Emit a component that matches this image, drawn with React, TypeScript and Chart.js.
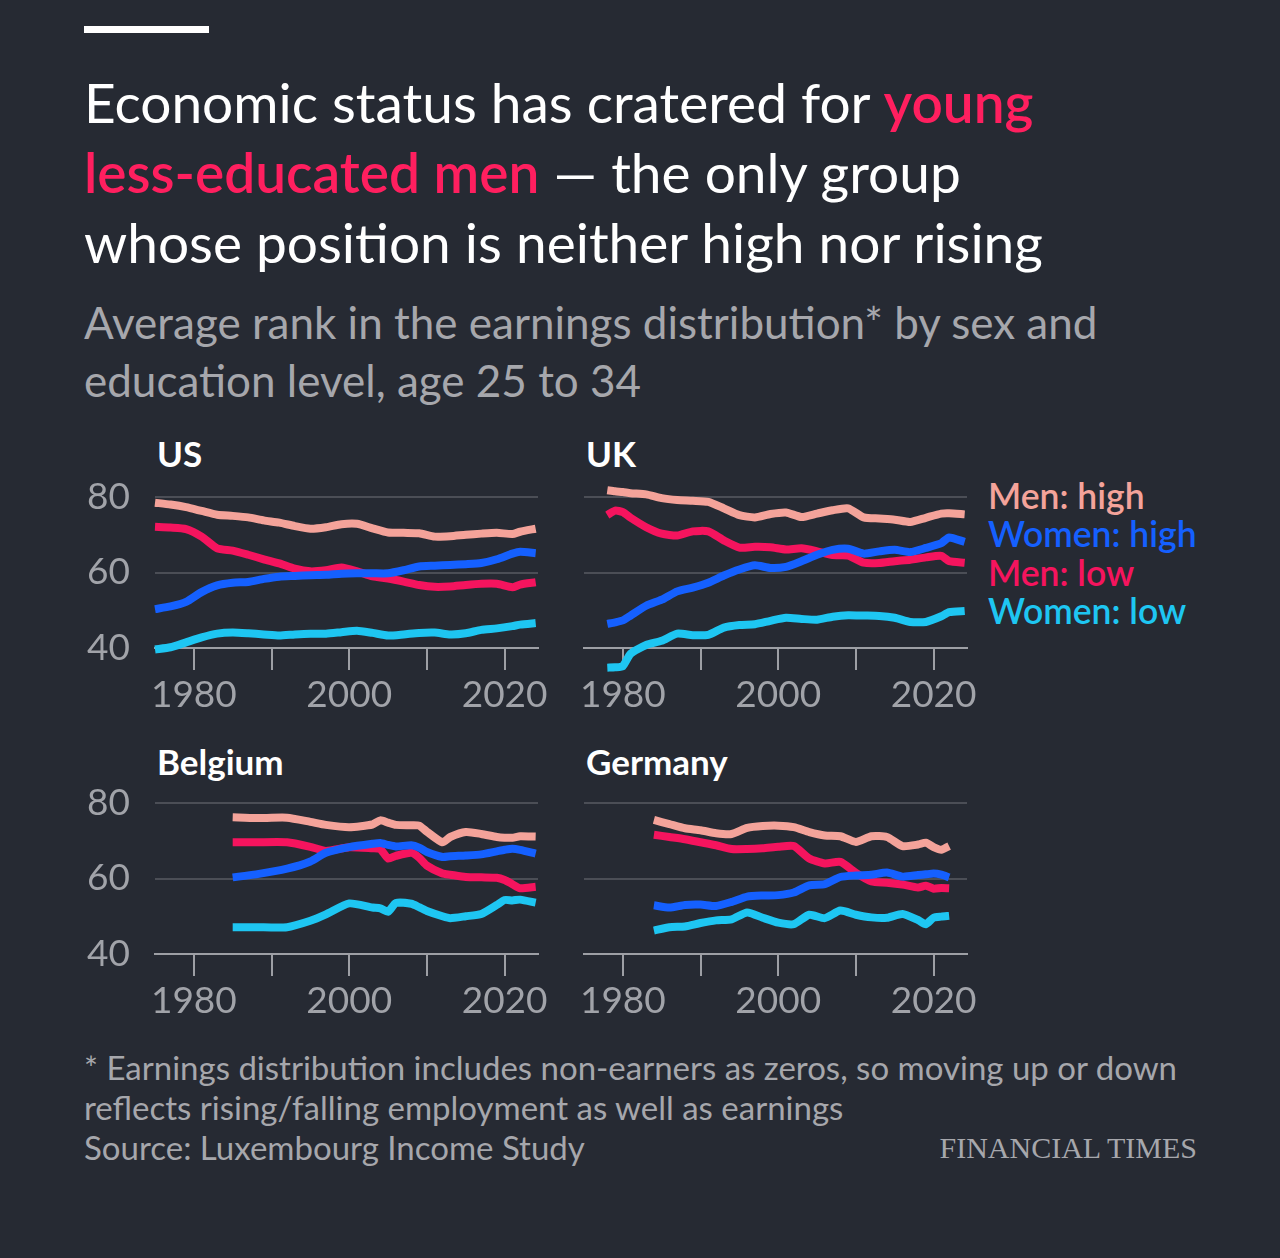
import { useEffect, useRef } from 'react';
import { Chart, registerables } from 'chart.js';

Chart.register(...registerables);

const BG = '#262a33';
const RED = '#ff1f5f';
const GREY_TEXT = '#a6a7ac';
const FONT = 'Lato, "Noto Sans", sans-serif';

const SERIES_NAMES = ['Men: high', 'Women: high', 'Men: low', 'Women: low'];
const SERIES_COLORS = ['#f4a39a', '#1560ff', '#f5145e', '#1ec6f2'];

const X_TICKS = [1980, 1990, 2000, 2010, 2020];
const X_LABELS = [1980, 2000, 2020];
const Y_TICKS = [40, 60, 80];

// US
const US_YEARS = [1975, 1977, 1979, 1981, 1983, 1985, 1987, 1989, 1991, 1993, 1995, 1997, 1999, 2001, 2003, 2005, 2007, 2009, 2011, 2013, 2015, 2017, 2019, 2021, 2022, 2024];
const US_MEN_HIGH = [78.5, 78.0, 77.3, 76.3, 75.3, 75.0, 74.6, 73.8, 73.2, 72.3, 71.6, 72.0, 72.8, 72.9, 71.7, 70.6, 70.5, 70.4, 69.5, 69.6, 70.0, 70.3, 70.5, 70.2, 70.8, 71.6];
const US_WOMEN_HIGH = [50.3, 51.0, 52.2, 54.8, 56.6, 57.3, 57.5, 58.3, 58.9, 59.1, 59.3, 59.4, 59.7, 59.8, 59.8, 59.8, 60.6, 61.6, 61.8, 62.0, 62.2, 62.5, 63.5, 65.0, 65.5, 65.1];
const US_MEN_LOW = [72.1, 71.9, 71.5, 69.5, 66.4, 65.8, 64.7, 63.5, 62.4, 61.0, 60.3, 60.6, 61.3, 60.3, 59.0, 58.4, 57.6, 56.7, 56.2, 56.3, 56.7, 57.0, 57.0, 56.1, 56.8, 57.4];
const US_WOMEN_LOW = [39.6, 40.2, 41.5, 42.8, 43.8, 44.1, 43.9, 43.6, 43.3, 43.6, 43.8, 43.8, 44.2, 44.6, 44.0, 43.3, 43.6, 44.0, 44.1, 43.6, 43.9, 44.8, 45.2, 45.8, 46.2, 46.6];

// UK
const UK_YEARS = [1978, 1979, 1980, 1981, 1983, 1985, 1987, 1989, 1991, 1993, 1995, 1997, 1999, 2001, 2003, 2005, 2007, 2009, 2011, 2013, 2015, 2017, 2019, 2021, 2022, 2024];
const UK_MEN_HIGH = [81.8, 81.5, 81.3, 81.0, 80.7, 79.7, 79.2, 79.0, 78.7, 77.0, 75.2, 74.6, 75.5, 75.9, 74.7, 75.6, 76.5, 77.0, 74.6, 74.3, 74.0, 73.4, 74.5, 75.6, 75.7, 75.4];
const UK_WOMEN_HIGH = [46.4, 46.8, 47.3, 48.6, 51.2, 52.8, 55.0, 56.0, 57.3, 59.2, 60.8, 61.9, 61.2, 61.5, 63.0, 64.7, 66.0, 66.3, 65.0, 65.6, 66.0, 65.4, 66.5, 67.8, 69.3, 68.1];
const UK_MEN_LOW = [75.2, 76.4, 76.0, 74.5, 72.0, 70.3, 69.8, 70.9, 70.9, 68.5, 66.6, 66.8, 66.7, 66.1, 66.4, 65.6, 64.6, 64.5, 62.6, 62.5, 63.0, 63.4, 64.0, 64.4, 63.0, 62.6];
const UK_WOMEN_LOW = [34.8, 34.9, 35.2, 38.5, 40.8, 41.9, 43.8, 43.4, 43.5, 45.4, 46.1, 46.3, 47.2, 48.0, 47.7, 47.5, 48.3, 48.7, 48.6, 48.5, 48.0, 46.9, 46.9, 48.4, 49.5, 49.8];

// Belgium
const BE_YEARS = [1985, 1988, 1992, 1995, 1997, 2000, 2003, 2004, 2005, 2006, 2008, 2009, 2010, 2012, 2013, 2015, 2017, 2019, 2020, 2021, 2022, 2024];
const BE_MEN_HIGH = [76.2, 76.0, 76.1, 75.0, 74.2, 73.6, 74.3, 75.4, 74.8, 74.2, 74.1, 74.0, 72.4, 69.6, 71.0, 72.3, 71.8, 71.0, 70.8, 70.8, 71.2, 71.1];
const BE_WOMEN_HIGH = [60.3, 61.1, 62.6, 64.5, 66.8, 68.3, 69.2, 69.4, 68.9, 68.5, 68.8, 68.2, 67.0, 65.7, 65.9, 66.1, 66.4, 67.2, 67.6, 67.9, 67.6, 66.6];
const BE_MEN_LOW = [69.6, 69.6, 69.6, 68.4, 67.3, 68.3, 68.0, 67.8, 65.3, 66.0, 66.8, 65.5, 63.4, 61.3, 61.0, 60.4, 60.3, 60.2, 59.6, 58.5, 57.4, 57.8];
const BE_WOMEN_LOW = [47.1, 47.1, 47.1, 48.8, 50.5, 53.4, 52.3, 52.1, 51.2, 53.5, 53.3, 52.4, 51.4, 50.0, 49.5, 50.0, 50.6, 53.0, 54.3, 54.2, 54.4, 53.6];

// Germany
const DE_YEARS = [1984, 1986, 1988, 1990, 1992, 1994, 1996, 1998, 2000, 2002, 2004, 2006, 2008, 2010, 2012, 2014, 2016, 2018, 2019, 2020, 2021, 2022];
const DE_MEN_HIGH = [75.5, 74.4, 73.3, 72.8, 72.0, 71.8, 73.4, 73.9, 74.0, 73.6, 72.3, 71.4, 71.2, 69.7, 71.2, 71.0, 68.6, 69.0, 69.5, 68.3, 67.6, 68.6];
const DE_WOMEN_HIGH = [52.9, 52.3, 53.0, 53.1, 52.7, 53.8, 55.2, 55.5, 55.6, 56.3, 58.2, 58.5, 60.4, 60.8, 61.0, 61.6, 60.5, 60.9, 61.1, 61.3, 61.0, 60.3];
const DE_MEN_LOW = [71.6, 71.0, 70.4, 69.6, 68.8, 67.8, 67.8, 68.0, 68.4, 68.6, 65.3, 64.0, 64.4, 61.5, 59.2, 58.9, 58.4, 57.6, 58.1, 57.3, 57.5, 57.4];
const DE_WOMEN_LOW = [46.2, 47.1, 47.3, 48.2, 48.9, 49.2, 51.0, 49.6, 48.3, 47.9, 50.4, 49.5, 51.5, 50.4, 49.7, 49.6, 50.6, 49.0, 47.9, 49.6, 49.9, 50.1];

interface PanelProps {
  years: number[];
  series: number[][];
  left: number;
  top: number;
  width: number;
  axisWidth: number;
  padRight: number;
  yLabels: boolean;
}

function Panel({ years, series, left, top, width, axisWidth, padRight, yLabels }: PanelProps) {
  const canvasRef = useRef<HTMLCanvasElement>(null);

  useEffect(() => {
    if (!canvasRef.current) return;
    const chart = new Chart(canvasRef.current, {
      type: 'line',
      data: {
        datasets: series.map((values, i) => ({
          label: SERIES_NAMES[i],
          data: years.map((x, j) => ({ x, y: values[j] })),
          borderColor: SERIES_COLORS[i],
          borderWidth: 8,
          borderJoinStyle: 'round' as const,
          pointRadius: 0,
          tension: 0.2,
          clip: false as any,
        })),
      },
      options: {
        responsive: false,
        animation: false,
        layout: { padding: { top: 27, right: padRight, left: 0, bottom: 0 } },
        plugins: { legend: { display: false }, tooltip: { enabled: false } },
        scales: {
          x: {
            type: 'linear',
            min: 1975,
            max: 2024.3,
            afterBuildTicks: (s) => {
              s.ticks = X_TICKS.map((value) => ({ value }));
            },
            afterFit: (s) => {
              s.height = 72;
              s.paddingLeft = 0;
              s.paddingRight = 0;
            },
            grid: { drawOnChartArea: false, drawTicks: true, tickLength: 22, color: '#9d9fa5', lineWidth: 2 },
            border: { display: true, color: '#9d9fa5', width: 2 },
            ticks: {
              autoSkip: false,
              maxRotation: 0,
              padding: 3,
              color: '#a1a3a9',
              font: { family: FONT, size: 37 },
              callback: (v) => (X_LABELS.includes(Number(v)) ? String(v) : ''),
            },
          },
          y: {
            min: 40,
            max: 80,
            afterBuildTicks: (s) => {
              s.ticks = Y_TICKS.map((value) => ({ value }));
            },
            afterFit: (s) => {
              s.width = axisWidth;
              s.paddingTop = 0;
              s.paddingBottom = 0;
            },
            grid: { color: '#4b4e56', lineWidth: 2, drawTicks: false },
            border: { display: false },
            ticks: {
              display: yLabels,
              padding: 25,
              color: '#a1a3a9',
              font: { family: FONT, size: 37 },
              callback: (v) => String(v),
            },
          },
        },
      },
    });
    return () => {
      chart.destroy();
    };
  }, [years, series, axisWidth, padRight, yLabels]);

  return (
    <canvas
      ref={canvasRef}
      width={width}
      height={250}
      style={{ position: 'absolute', left, top, width, height: 250 }}
    />
  );
}

const abs = (left: number, top: number, extra: React.CSSProperties = {}): React.CSSProperties => ({
  position: 'absolute',
  left,
  top,
  whiteSpace: 'nowrap',
  ...extra,
});

const panelTitle: React.CSSProperties = { fontSize: 35, lineHeight: '40px', fontWeight: 700, color: '#ffffff' };

export default function App() {
  return (
    <div style={{ position: 'absolute', left: 0, top: 0, width: 1280, height: 1258, background: BG, overflow: 'hidden', fontFamily: FONT }}>
      <div style={{ position: 'absolute', left: 84, top: 26, width: 125, height: 7, background: '#ffffff' }} />

      <div style={abs(84, 67, { fontSize: 55, lineHeight: '70px', color: '#ffffff' })}>
        Economic status has cratered for <span style={{ color: RED, fontWeight: 600 }}>young</span>
        <br />
        <span style={{ color: RED, fontWeight: 600 }}>less-educated men</span> — the only group
        <br />
        whose position is neither high nor rising
      </div>

      <div style={abs(84, 293, { fontSize: 44, lineHeight: '58px', color: GREY_TEXT })}>
        Average rank in the earnings distribution* by sex and
        <br />
        education level, age 25 to 34
      </div>

      <div style={abs(157, 433, panelTitle)}>US</div>
      <div style={abs(586, 433, panelTitle)}>UK</div>
      <div style={abs(157, 741, panelTitle)}>Belgium</div>
      <div style={abs(586, 741, panelTitle)}>Germany</div>

      <Panel years={US_YEARS} series={[US_MEN_HIGH, US_WOMEN_HIGH, US_MEN_LOW, US_WOMEN_LOW]} left={80} top={470} width={470} axisWidth={75} padRight={12} yLabels />
      <Panel years={UK_YEARS} series={[UK_MEN_HIGH, UK_WOMEN_HIGH, UK_MEN_LOW, UK_WOMEN_LOW]} left={570} top={470} width={410} axisWidth={14} padRight={13} yLabels={false} />
      <Panel years={BE_YEARS} series={[BE_MEN_HIGH, BE_WOMEN_HIGH, BE_MEN_LOW, BE_WOMEN_LOW]} left={80} top={776} width={470} axisWidth={75} padRight={12} yLabels />
      <Panel years={DE_YEARS} series={[DE_MEN_HIGH, DE_WOMEN_HIGH, DE_MEN_LOW, DE_WOMEN_LOW]} left={570} top={776} width={410} axisWidth={14} padRight={13} yLabels={false} />

      <div style={abs(988, 477, { fontSize: 35.5, lineHeight: '38.4px', fontWeight: 600 })}>
        {SERIES_NAMES.map((name, i) => (
          <div key={name} style={{ color: SERIES_COLORS[i] }}>
            {name}
          </div>
        ))}
      </div>

      <div style={abs(84, 1047, { fontSize: 33, lineHeight: '40px', color: GREY_TEXT })}>
        * Earnings distribution includes non-earners as zeros, so moving up or down
        <br />
        reflects rising/falling employment as well as earnings
        <br />
        Source: Luxembourg Income Study
      </div>
      <div
        style={{
          position: 'absolute',
          right: 83,
          top: 1128,
          fontFamily: '"Liberation Serif", "DejaVu Serif", serif',
          fontSize: 30,
          lineHeight: '39px',
          color: GREY_TEXT,
          whiteSpace: 'nowrap',
        }}
      >
        FINANCIAL TIMES
      </div>
    </div>
  );
}
